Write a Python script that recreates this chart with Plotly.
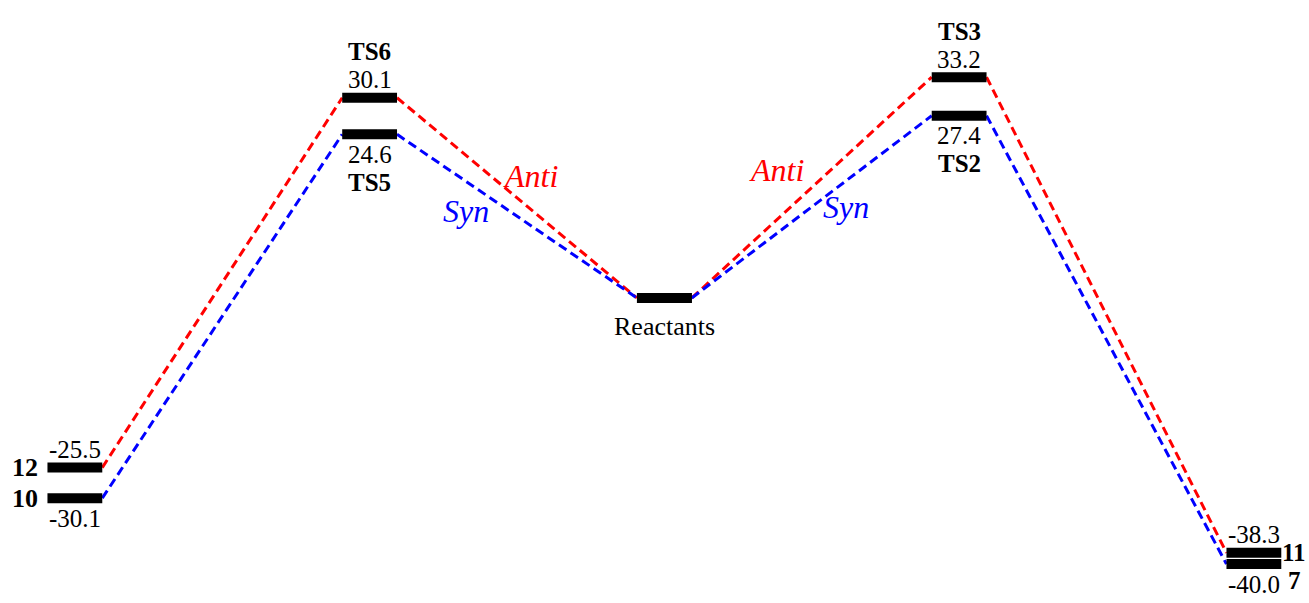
import plotly.graph_objects as go

# ---- data ----
anti_names = ["12", "TS6", "Reactants", "TS3", "11"]
anti_energy = [-25.5, 30.1, 0.0, 33.2, -38.3]
syn_names = ["10", "TS5", "Reactants", "TS2", "7"]
syn_energy = [-30.1, 24.6, 0.0, 27.4, -40.0]
path_labels = ["Anti", "Syn"]

stages = list(range(len(anti_names)))
HALF = 0.093  # half width of a level bar (reaction-coordinate units)

RED = "#ff0000"
BLUE = "#0000ff"
FONT = "Liberation Serif"

fig = go.Figure()


def connectors(energies):
    xs, ys = [], []
    for i in range(len(energies) - 1):
        xs += [stages[i] + HALF, stages[i + 1] - HALF, None]
        ys += [energies[i], energies[i + 1], None]
    return xs, ys


for energies, color in [(anti_energy, RED), (syn_energy, BLUE)]:
    xs, ys = connectors(energies)
    fig.add_trace(go.Scatter(x=xs, y=ys, mode="lines", hoverinfo="skip",
                             line=dict(color=color, width=3, dash="9px,5px")))

# level bars
bx, by = [], []
for energies in (anti_energy, syn_energy):
    for s, e in zip(stages, energies):
        bx += [s - HALF, s + HALF, None]
        by += [e, e, None]
fig.add_trace(go.Scatter(x=bx, y=by, mode="lines", hoverinfo="skip",
                         line=dict(color="black", width=10)))

ann = []


def txt(x, y, text, xshift=0, yshift=0, xanchor="center", bold=False, size=26,
        color="black", italic=False):
    t = f"<b>{text}</b>" if bold else text
    t = f"<i>{t}</i>" if italic else t
    ann.append(dict(x=x, y=y, xref="x", yref="y", text=t, showarrow=False,
                    xanchor=xanchor, yanchor="middle", xshift=xshift, yshift=yshift,
                    borderpad=0,
                    font=dict(family=FONT, size=size, color=color)))


last = stages[-1]
for s in stages:
    a_name, a_e = anti_names[s], anti_energy[s]
    s_name, s_e = syn_names[s], syn_energy[s]
    if a_name == s_name:  # common level (Reactants)
        txt(s, a_e, a_name, yshift=-29, size=26)
        continue
    # energies: anti above, syn below
    txt(s, a_e, f"{a_e:.1f}", yshift=18, size=25)
    txt(s, s_e, f"{s_e:.1f}", yshift=-20, size=25)
    if s == 0:
        txt(s - HALF, a_e, a_name, xshift=-8, xanchor="right", bold=True)
        txt(s - HALF, s_e, s_name, xshift=-8, xanchor="right", bold=True)
    elif s == last:
        txt(s + HALF, a_e, a_name, xshift=0, xanchor="left", bold=True, size=25)
        txt(s + HALF, s_e, s_name, xshift=6, yshift=-16, xanchor="left", bold=True, size=25)
    else:
        txt(s, a_e, a_name, yshift=46, bold=True, size=25)
        txt(s, s_e, s_name, yshift=-48, bold=True, size=25)

# path labels placed along the connecting segments around the reactants
def along(i, energies, t):
    x0, x1 = stages[i] + HALF, stages[i + 1] - HALF
    return x0 + t * (x1 - x0), energies[i] + t * (energies[i + 1] - energies[i])

x, y = along(1, anti_energy, 0.39)
txt(x, y, path_labels[0], xshift=40, italic=True, color=RED, size=32)
x, y = along(1, syn_energy, 0.47)
txt(x, y, path_labels[1], xshift=-44, italic=True, color=BLUE, size=32)
x, y = along(2, anti_energy, 0.58)
txt(x, y, path_labels[0], xshift=-54, italic=True, color=RED, size=32)
x, y = along(2, syn_energy, 0.5)
txt(x, y, path_labels[1], xshift=34, italic=True, color=BLUE, size=32)

fig.update_layout(
    width=1309, height=603,
    margin=dict(l=0, r=0, t=0, b=0),
    paper_bgcolor="white", plot_bgcolor="white",
    showlegend=False,
    annotations=ann,
    xaxis=dict(range=[-0.254, 4.187], visible=False, fixedrange=True),
    yaxis=dict(range=[-45.86, 44.8], visible=False, fixedrange=True),
)

fig.write_html("out.html", config={"displayModeBar": False},
               post_script="document.body.style.margin='0';document.body.style.overflow='hidden';")
